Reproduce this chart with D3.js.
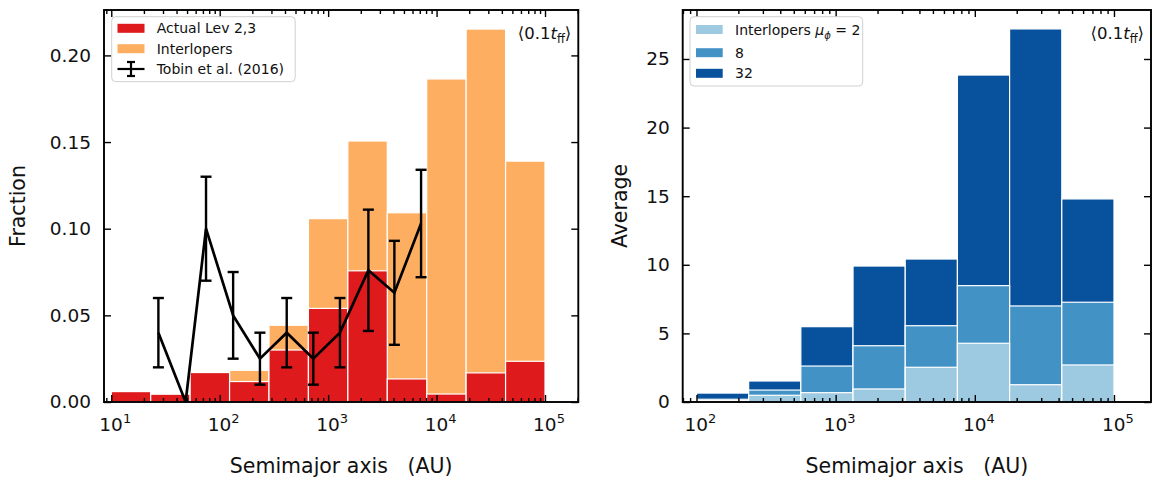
<!DOCTYPE html>
<html>
<head>
<meta charset="utf-8">
<script src="https://cdn.jsdelivr.net/npm/d3@7/dist/d3.min.js"></script>
<style>
  body { margin: 0; background: #fff; }
  text { font-family: "DejaVu Sans", "Liberation Sans", sans-serif; fill: #111; }
</style>
</head>
<body>
<svg id="fig" width="1157" height="481"></svg>
<script>
// ---- Data -------------------------------------------------------------
// Histogram bin edges (AU)
const edgesLeft  = [10, 23.1, 53.37, 123.3, 284.8, 657.9, 1520, 3511, 8111, 18738, 43288, 100000];
const edgesRight = [100, 237.1, 562.3, 1333.5, 3162.3, 7498.9, 17782.8, 42169.7, 100000];

// Left panel: fraction per bin
const actualFrac     = [0.0060, 0.0045, 0.0170, 0.0118, 0.0300, 0.0540, 0.0757, 0.0133, 0.0046, 0.0168, 0.0235];
const interloperFrac = [0.0000, 0.0000, 0.0177, 0.0183, 0.0443, 0.1058, 0.1506, 0.1092, 0.1864, 0.2152, 0.1390];

// Tobin et al. (2016) observed separations
const tobinA    = [27.2, 48.5, 74.8, 133, 235, 415, 730, 1285, 2350, 4083, 7195];
const tobinFrac = [0.040, 0.000, 0.100, 0.050, 0.025, 0.040, 0.025, 0.040, 0.076, 0.063, 0.103];
const tobinErr  = [0.020, 0.000, 0.030, 0.025, 0.015, 0.020, 0.015, 0.020, 0.035, 0.030, 0.031];

// Right panel: average interloper counts for three mu_phi values
const mu2  = [0.10, 0.49, 0.68, 0.95, 2.53, 4.28, 1.26, 2.70];
const mu8  = [0.20, 0.87, 2.62, 4.10, 5.56, 8.48, 7.00, 7.27];
const mu32 = [0.65, 1.53, 5.49, 9.91, 10.42, 23.83, 27.19, 14.80];

const leftYTicks  = [0, 0.05, 0.10, 0.15, 0.20];
const rightYTicks = [0, 5, 10, 15, 20, 25];
const leftXTicks  = [1, 2, 3, 4, 5];   // powers of ten
const rightXTicks = [2, 3, 4, 5];

const colRed = "#de1a1c", colOrange = "#fdae61";
const colLight = "#9ecae1", colMid = "#4292c6", colDark = "#08519c";

// ---- Scales -----------------------------------------------------------
const svg = d3.select("#fig");

const L = { x0: 104, x1: 578.3, y0: 10, y1: 402 };
const R = { x0: 682.7, x1: 1151, y0: 10, y1: 402 };

const xL = d3.scaleLog().domain([Math.pow(10, 0.933), Math.pow(10, 5.307)]).range([L.x0, L.x1]);
const yL = d3.scaleLinear().domain([0, 0.2262]).range([L.y1, L.y0]);
const xR = d3.scaleLog().domain([Math.pow(10, 1.901), Math.pow(10, 5.266)]).range([R.x0, R.x1]);
const yR = d3.scaleLinear().domain([0, 28.57]).range([R.y1, R.y0]);

// ---- Bars -------------------------------------------------------------
function drawBars(g, edges, vals, x, y, color) {
  g.selectAll(null).data(vals).enter().append("rect")
    .attr("x", (d, i) => x(edges[i]))
    .attr("width", (d, i) => x(edges[i + 1]) - x(edges[i]))
    .attr("y", d => y(d))
    .attr("height", d => y(0) - y(d))
    .attr("fill", color)
    .attr("stroke", "#fff")
    .attr("stroke-width", 1.2);
}

const gL = svg.append("g");
drawBars(gL, edgesLeft, interloperFrac, xL, yL, colOrange);
drawBars(gL, edgesLeft, actualFrac, xL, yL, colRed);

const gR = svg.append("g");
drawBars(gR, edgesRight, mu32, xR, yR, colDark);
drawBars(gR, edgesRight, mu8, xR, yR, colMid);
drawBars(gR, edgesRight, mu2, xR, yR, colLight);

// ---- Tobin et al. line with error bars ---------------------------------
const tob = tobinA.map((a, i) => ({ a, f: tobinFrac[i], e: tobinErr[i] }));
gL.append("path")
  .datum(tob)
  .attr("fill", "none").attr("stroke", "#000").attr("stroke-width", 2.7)
  .attr("stroke-linejoin", "miter")
  .attr("d", d3.line().x(d => xL(d.a)).y(d => yL(d.f)));

const eb = gL.selectAll(null).data(tob.filter(d => d.e > 0)).enter().append("g")
  .attr("stroke", "#000").attr("stroke-width", 2.4);
eb.append("line").attr("x1", d => xL(d.a)).attr("x2", d => xL(d.a))
  .attr("y1", d => yL(d.f - d.e)).attr("y2", d => yL(d.f + d.e));
eb.append("line").attr("x1", d => xL(d.a) - 5.5).attr("x2", d => xL(d.a) + 5.5)
  .attr("y1", d => yL(d.f - d.e)).attr("y2", d => yL(d.f - d.e));
eb.append("line").attr("x1", d => xL(d.a) - 5.5).attr("x2", d => xL(d.a) + 5.5)
  .attr("y1", d => yL(d.f + d.e)).attr("y2", d => yL(d.f + d.e));

// ---- Axes -------------------------------------------------------------
function minorTicks(x) {
  const [a, b] = x.domain();
  const out = [];
  for (let p = -1; p <= 6; p++) for (let m = 2; m <= 9; m++) {
    const v = m * Math.pow(10, p);
    if (v > a && v < b) out.push(v);
  }
  return out;
}

function drawAxes(box, x, y, yTicks, xPows, yFmt) {
  const g = svg.append("g");
  const majors = xPows.map(p => Math.pow(10, p));
  const minors = minorTicks(x);
  const style = s => s.call(gg => gg.select(".domain").remove())
                      .call(gg => gg.selectAll("line").attr("stroke", "#000").attr("stroke-width", 1.4));

  // bottom & top (ticks pointing inward)
  g.append("g").attr("transform", `translate(0,${box.y1})`)
    .call(d3.axisBottom(x).tickValues(majors).tickSize(-7).tickFormat("")).call(style);
  g.append("g").attr("transform", `translate(0,${box.y1})`)
    .call(d3.axisBottom(x).tickValues(minors).tickSize(-4).tickFormat("")).call(style);
  g.append("g").attr("transform", `translate(0,${box.y0})`)
    .call(d3.axisTop(x).tickValues(majors).tickSize(-7).tickFormat("")).call(style);
  g.append("g").attr("transform", `translate(0,${box.y0})`)
    .call(d3.axisTop(x).tickValues(minors).tickSize(-4).tickFormat("")).call(style);
  // left & right
  g.append("g").attr("transform", `translate(${box.x0},0)`)
    .call(d3.axisLeft(y).tickValues(yTicks).tickSize(-7).tickFormat("")).call(style);
  g.append("g").attr("transform", `translate(${box.x1},0)`)
    .call(d3.axisRight(y).tickValues(yTicks).tickSize(-7).tickFormat("")).call(style);

  // frame
  g.append("rect").attr("x", box.x0).attr("y", box.y0)
    .attr("width", box.x1 - box.x0).attr("height", box.y1 - box.y0)
    .attr("fill", "none").attr("stroke", "#000").attr("stroke-width", 1.9);

  // x tick labels 10^p
  const xl = g.selectAll(null).data(xPows).enter().append("text")
    .attr("x", p => x(Math.pow(10, p)) + 4).attr("y", box.y1 + 29)
    .attr("text-anchor", "middle").attr("font-size", 18.5);
  xl.append("tspan").text("10");
  xl.append("tspan").attr("dy", -8).attr("font-size", 13).text(p => p);

  // y tick labels
  g.selectAll(null).data(yTicks).enter().append("text")
    .attr("x", box.x0 - 13).attr("y", d => y(d)).attr("dy", "0.35em")
    .attr("text-anchor", "end").attr("font-size", 18.5).text(yFmt);

  // x axis title
  g.append("text").attr("x", (box.x0 + box.x1) / 2).attr("y", 473)
    .attr("text-anchor", "middle").attr("font-size", 20.5)
    .attr("xml:space", "preserve").text("Semimajor axis   (AU)");

  // time label
  const t = g.append("text").attr("x", box.x1 - 7).attr("y", box.y0 + 29)
    .attr("text-anchor", "end").attr("font-size", 16.5);
  t.append("tspan").text("\u27E80.1");
  t.append("tspan").attr("font-style", "italic").text("t");
  t.append("tspan").attr("dy", 4).attr("font-size", 11.5).text("ff");
  t.append("tspan").attr("dy", -4).text("\u27E9");
  return g;
}

drawAxes(L, xL, yL, leftYTicks, leftXTicks, d3.format(".2f"));
drawAxes(R, xR, yR, rightYTicks, rightXTicks, d3.format("d"));

// y axis titles
svg.append("text").attr("transform", `translate(25,${(L.y0 + L.y1) / 2}) rotate(-90)`)
  .attr("text-anchor", "middle").attr("font-size", 20.5).text("Fraction");
svg.append("text").attr("transform", `translate(627,${(R.y0 + R.y1) / 2}) rotate(-90)`)
  .attr("text-anchor", "middle").attr("font-size", 20.5).text("Average");

// ---- Legends ----------------------------------------------------------
function legendBox(x, y, w, h) {
  svg.append("rect").attr("x", x).attr("y", y).attr("width", w).attr("height", h)
    .attr("rx", 4).attr("fill", "#fff").attr("fill-opacity", 0.85)
    .attr("stroke", "#d0d0d0").attr("stroke-width", 1);
}

// left legend
legendBox(111.7, 16.7, 183.5, 65);
const leftItems = [
  { label: "Actual Lev 2,3", color: colRed },
  { label: "Interlopers", color: colOrange }
];
leftItems.forEach((it, i) => {
  const cy = 28.3 + i * 20.4;
  svg.append("rect").attr("x", 117.5).attr("y", cy - 4.5).attr("width", 27).attr("height", 9).attr("fill", it.color);
  svg.append("text").attr("x", 156.7).attr("y", cy).attr("dy", "0.36em").attr("font-size", 14).text(it.label);
});
{
  const cy = 69, cx = 131;
  const g = svg.append("g").attr("stroke", "#000").attr("stroke-width", 2.2);
  g.append("line").attr("x1", 117.5).attr("x2", 144.5).attr("y1", cy).attr("y2", cy);
  g.append("line").attr("x1", cx).attr("x2", cx).attr("y1", cy - 7).attr("y2", cy + 7);
  g.append("line").attr("x1", cx - 4).attr("x2", cx + 4).attr("y1", cy - 7).attr("y2", cy - 7);
  g.append("line").attr("x1", cx - 4).attr("x2", cx + 4).attr("y1", cy + 7).attr("y2", cy + 7);
  svg.append("text").attr("x", 156.7).attr("y", cy).attr("dy", "0.36em").attr("font-size", 14).text("Tobin et al. (2016)");
}

// right legend
legendBox(690, 16.7, 172.7, 69.3);
const rightItems = [
  { color: colLight, cy: 29.5 },
  { color: colMid, cy: 52.7, label: "8" },
  { color: colDark, cy: 73.3, label: "32" }
];
rightItems.forEach((it, i) => {
  svg.append("rect").attr("x", 696).attr("y", it.cy - 4.5).attr("width", 26.7).attr("height", 9).attr("fill", it.color);
  const t = svg.append("text").attr("x", 735).attr("y", it.cy).attr("dy", "0.36em").attr("font-size", 14);
  if (i === 0) {
    t.append("tspan").text("Interlopers ");
    t.append("tspan").attr("font-style", "italic").text("\u03BC");
    t.append("tspan").attr("dy", 4).attr("font-size", 10).attr("font-style", "italic").text("\u03D5");
    t.append("tspan").attr("dy", -4).text(" = 2");
  } else {
    t.text(it.label);
  }
});
</script>
</body>
</html>
